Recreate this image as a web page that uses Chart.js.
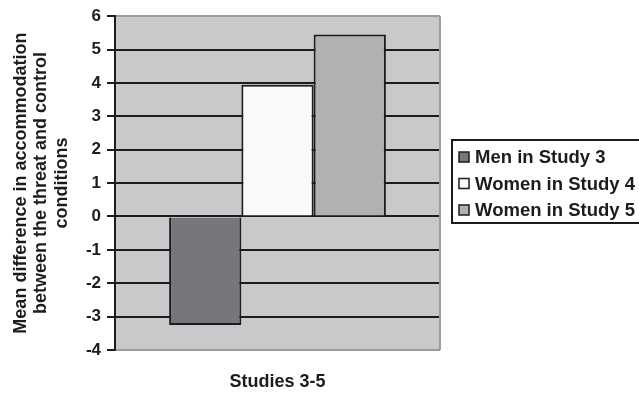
<!DOCTYPE html>
<html>
<head>
<meta charset="utf-8">
<script src="https://cdn.jsdelivr.net/npm/chart.js@4"></script>
<style>
  html, body { margin: 0; padding: 0; background: #fff; }
  #wrap { width: 639px; height: 394px; }
</style>
</head>
<body>
<div id="wrap"><canvas id="c" width="639" height="394"></canvas></div>
<script>
// Data
const categories = ['Studies 3-5'];
const seriesNames = ['Men in Study 3', 'Women in Study 4', 'Women in Study 5'];
const menStudy3 = [-3.25];
const womenStudy4 = [3.95];
const womenStudy5 = [5.45];
const yTicks = [-4, -3, -2, -1, 0, 1, 2, 3, 4, 5, 6];
const yTitle = ['Mean difference in accommodation', 'between the threat and control', 'conditions'];
const xTitle = 'Studies 3-5';

const seriesValues = [menStudy3, womenStudy4, womenStudy5];
const seriesColors = ['#77777b', '#f9f9f9', '#b1b1b3'];
const FONT = '"Liberation Sans", Arial, sans-serif';
const INK = '#1c1c1c';
const FRAME = '#9c9c9e';

// Grey plot background and right-hand frame line
const plotFrame = {
  id: 'plotFrame',
  beforeDraw(chart) {
    const { ctx, chartArea: a } = chart;
    ctx.save();
    ctx.fillStyle = '#fff';
    ctx.fillRect(0, 0, chart.width, chart.height);
    ctx.fillStyle = '#c9c9cb';
    ctx.fillRect(a.left, a.top, a.right - a.left, a.bottom - a.top);
    ctx.restore();
  },
  beforeDatasetsDraw(chart) {
    const { ctx, chartArea: a } = chart;
    ctx.save();
    ctx.strokeStyle = FRAME;
    ctx.lineWidth = 2;
    ctx.beginPath();
    ctx.moveTo(a.right, a.top);
    ctx.lineTo(a.right, a.bottom);
    ctx.stroke();
    ctx.restore();
  }
};

// Boxed legend on the right
const boxLegend = {
  id: 'boxLegend',
  afterDraw(chart) {
    const { ctx } = chart;
    const x0 = 452, y0 = 140, w = 200, h = 83;
    ctx.save();
    ctx.strokeStyle = INK;
    ctx.lineWidth = 2;
    ctx.strokeRect(x0, y0, w, h);
    ctx.font = 'bold 18.5px ' + FONT;
    ctx.textBaseline = 'middle';
    chart.data.datasets.forEach((ds, i) => {
      const cy = 157 + i * 26.5;
      ctx.fillStyle = ds.backgroundColor;
      ctx.fillRect(459, cy - 5, 10, 10);
      ctx.lineWidth = 1.5;
      ctx.strokeStyle = INK;
      ctx.strokeRect(459, cy - 5, 10, 10);
      ctx.fillStyle = INK;
      ctx.fillText(ds.label, 475, cy + 1);
    });
    ctx.restore();
  }
};

new Chart(document.getElementById('c'), {
  type: 'bar',
  data: {
    labels: categories,
    datasets: seriesNames.map((name, i) => ({
      label: name,
      data: seriesValues[i],
      backgroundColor: seriesColors[i],
      borderColor: INK,
      borderWidth: 2,
      categoryPercentage: 0.667,
      barPercentage: 1
    }))
  },
  options: {
    responsive: false,
    devicePixelRatio: 1,
    animation: false,
    layout: { padding: { top: 14, right: 199, left: 0, bottom: 0 } },
    plugins: {
      legend: { display: false },
      tooltip: { enabled: false }
    },
    scales: {
      x: {
        afterFit: s => { s.height = 44; },
        ticks: { display: false },
        grid: { display: false },
        border: { display: false },
        title: {
          display: true,
          text: xTitle,
          color: INK,
          font: { family: FONT, size: 18, weight: 'bold', lineHeight: 1.2 },
          padding: { top: 0, bottom: 1.2 }
        }
      },
      y: {
        min: -4,
        max: 6,
        afterFit: s => { s.width = 115; },
        afterBuildTicks: s => { s.ticks = yTicks.map(v => ({ value: v })); },
        ticks: {
          color: INK,
          padding: 6,
          font: { family: FONT, size: 17, weight: 'bold' }
        },
        grid: {
          color: c => (c.tick && (c.tick.value === 6 || c.tick.value === -4)) ? FRAME : INK,
          tickColor: INK,
          lineWidth: 2,
          tickLength: 8
        },
        border: { display: true, color: INK, width: 2 },
        title: {
          display: true,
          text: yTitle,
          color: INK,
          font: { family: FONT, size: 18, weight: 'bold', lineHeight: 1.14 },
          padding: { top: 10.5, bottom: 0 }
        }
      }
    }
  },
  plugins: [plotFrame, boxLegend]
});
</script>
</body>
</html>
